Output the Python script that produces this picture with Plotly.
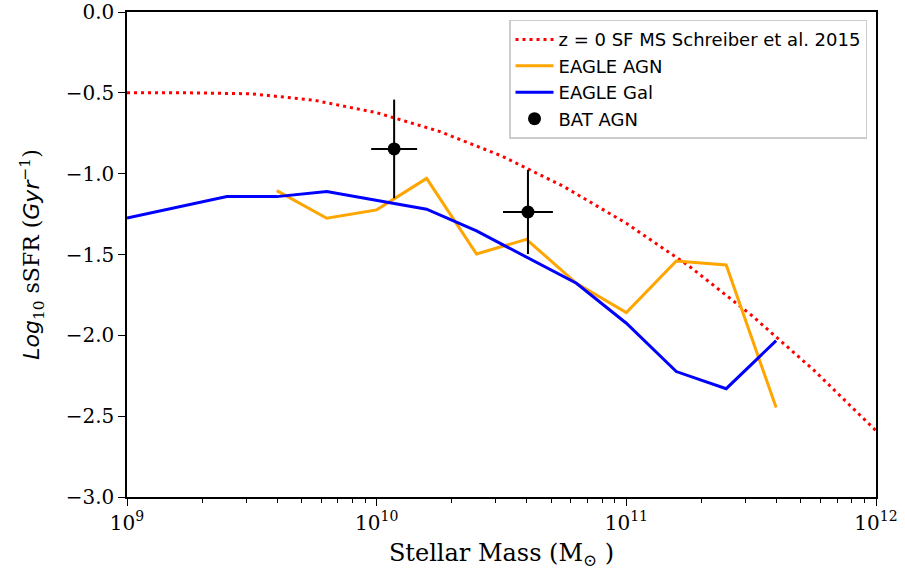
import numpy as np
import plotly.graph_objects as go

# Schreiber+2015 z=0 main sequence (log10 M*, log10 sSFR)
ms_logm = [9.0, 9.25, 9.5, 9.75, 10.0, 10.25, 10.5, 10.75, 11.0, 11.25, 11.5, 11.75, 12.0]
ms_ssfr = [-0.50, -0.50, -0.506, -0.546, -0.623, -0.738, -0.89, -1.08, -1.307, -1.57, -1.874, -2.214, -2.59]

# EAGLE AGN
agn_logm = [9.6, 9.8, 10.0, 10.2, 10.4, 10.6, 10.8, 11.0, 11.2, 11.4, 11.6]
agn_ssfr = [-1.105, -1.276, -1.224, -1.029, -1.497, -1.406, -1.678, -1.859, -1.54, -1.565, -2.447]

# EAGLE Gal
gal_logm = [9.0, 9.4, 9.6, 9.8, 10.2, 10.4, 10.8, 11.0, 11.2, 11.4, 11.6]
gal_ssfr = [-1.274, -1.142, -1.142, -1.111, -1.220, -1.354, -1.678, -1.925, -2.224, -2.330, -2.033]

# BAT AGN
bat_logm = [10.07, 10.606]
bat_ssfr = [-0.847, -1.237]
bat_xerr_dex = [0.092, 0.10]
bat_yerr = [0.305, 0.26]

xtick_vals = [1e9, 1e10, 1e11, 1e12]
xtick_text = ["10<sup>9</sup>", "10<sup>10</sup>", "10<sup>11</sup>", "10<sup>12</sup>"]
ytick_vals = [-3.0, -2.5, -2.0, -1.5, -1.0, -0.5, 0.0]
ytick_text = ["\u22123.0", "\u22122.5", "\u22122.0", "\u22121.5", "\u22121.0", "\u22120.5", "0.0"]

p = lambda a: [10 ** v for v in a]

fig = go.Figure()
fig.add_trace(go.Scatter(
    x=p(ms_logm), y=ms_ssfr, mode="lines", name="z = 0 SF MS Schreiber et al. 2015",
    line=dict(color="red", width=3, dash="3px,4px"), legendgroup="a"))
fig.add_trace(go.Scatter(
    x=p(agn_logm), y=agn_ssfr, mode="lines", name="EAGLE AGN",
    line=dict(color="orange", width=3), legendgroup="b"))
fig.add_trace(go.Scatter(
    x=p(gal_logm), y=gal_ssfr, mode="lines", name="EAGLE Gal",
    line=dict(color="blue", width=3), legendgroup="c"))

bx = p(bat_logm)
xplus = [10 ** (m + e) - 10 ** m for m, e in zip(bat_logm, bat_xerr_dex)]
xminus = [10 ** m - 10 ** (m - e) for m, e in zip(bat_logm, bat_xerr_dex)]
fig.add_trace(go.Scatter(
    x=bx, y=bat_ssfr, mode="markers", name="BAT AGN",
    marker=dict(color="black", size=13),
    error_x=dict(type="data", array=xplus, arrayminus=xminus, color="black", thickness=2, width=0),
    error_y=dict(type="data", array=bat_yerr, color="black", thickness=2, width=0),
    legendgroup="d"))

serif = "DejaVu Serif"
ytitle = ("<span style='font-family:DejaVu Sans;font-style:italic'>Log</span><sub>10</sub> sSFR "
          "(<span style='font-family:DejaVu Sans;font-style:italic'>Gyr</span><sup>\u22121</sup>)")
fig.update_layout(
    width=905, height=576,
    margin=dict(l=127, r=29, t=12, b=79),
    plot_bgcolor="white", paper_bgcolor="white",
    showlegend=True,
    legend=dict(x=0.988, y=0.984, xanchor="right", yanchor="top",
                bgcolor="white", bordercolor="#cccccc", borderwidth=1.5,
                font=dict(family="DejaVu Sans", size=18, color="black"),
                itemwidth=38, tracegroupgap=0, traceorder="normal"),
    xaxis=dict(type="log", range=[9, 12], showline=True, linecolor="black", linewidth=1.5,
               mirror=True, showgrid=False, zeroline=False, ticks="outside", ticklen=7,
               tickwidth=1.2, tickcolor="black", automargin=False,
               tickvals=xtick_vals, ticktext=xtick_text,
               tickfont=dict(family=serif, size=20, color="black"),
               minor=dict(ticks="outside", ticklen=4, tickwidth=1, tickcolor="black", dtick="D1", showgrid=False),
               title=dict(text="Stellar Mass (M<sub>\u2299</sub> )", font=dict(family=serif, size=24, color="black"), standoff=10)),
    yaxis=dict(range=[-3, 0], showline=True, linecolor="black", linewidth=1.5,
               mirror=True, showgrid=False, zeroline=False, ticks="outside", ticklen=7,
               tickwidth=1.2, tickcolor="black", automargin=False,
               tickvals=ytick_vals, ticktext=ytick_text,
               tickfont=dict(family=serif, size=20, color="black"),
               title=dict(text=ytitle, font=dict(family=serif, size=22, color="black"), standoff=20)),
)

fig.write_html("out.html")
